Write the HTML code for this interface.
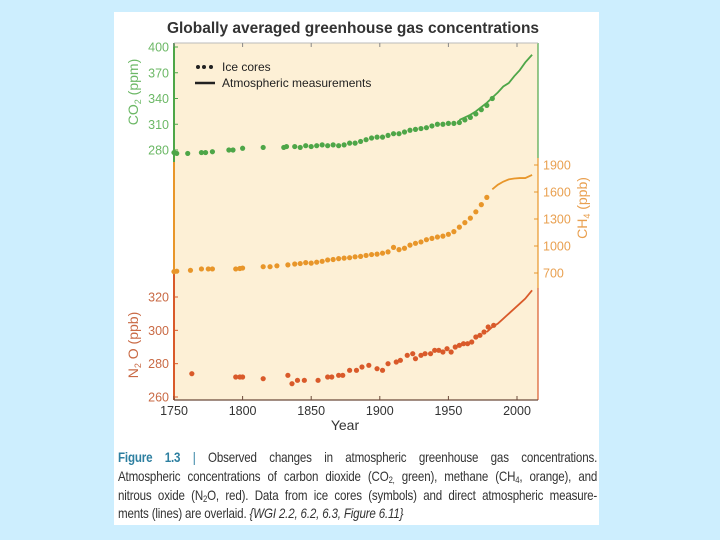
<!DOCTYPE html>
<html><head><meta charset="utf-8"><style>
body{margin:0;width:720px;height:540px;background:#cdeefe;font-family:"Liberation Sans",sans-serif;overflow:hidden}
#panel{position:absolute;left:114px;top:12px;width:485px;height:513px;background:#fff}
#cap{position:absolute;left:118px;top:449px;width:563px;font-size:13.6px;line-height:18.8px;color:#333;letter-spacing:-0.2px;transform:scaleX(0.851);transform-origin:0 0}
#cap div{white-space:nowrap;text-align:justify;text-align-last:justify;height:18.8px}
#cap div.last{text-align-last:left}
#cap sub{font-size:9px;line-height:0;vertical-align:-2px}
</style></head><body>
<div id="panel"></div>
<svg id="chart" width="720" height="540" style="position:absolute;left:0;top:0"></svg>
<div id="cap">
<div><b style="color:#2d7fa0">Figure 1.3</b> <span style="color:#2d7fa0">|</span> Observed changes in atmospheric greenhouse gas concentrations.</div>
<div>Atmospheric concentrations of carbon dioxide (CO<sub>2,</sub> green), methane (CH<sub>4</sub>, orange), and</div>
<div>nitrous oxide (N<sub>2</sub>O, red). Data from ice cores (symbols) and direct atmospheric measure-</div>
<div class="last">ments (lines) are overlaid. <i>{WGI 2.2, 6.2, 6.3, Figure 6.11}</i></div>
</div>
<script>
const xTicks=[1750,1800,1850,1900,1950,2000];
const co2Ticks=[280,310,340,370,400];
const ch4Ticks=[700,1000,1300,1600,1900];
const n2oTicks=[260,280,300,320];
const co2IceYears=[1750,1752,1760,1770,1773,1778,1790,1793,1800,1815,1830,1832,1838,1842,1846,1850,1854,1858,1862,1866,1870,1874,1878,1882,1886,1890,1894,1898,1902,1906,1910,1914,1918,1922,1926,1930,1934,1938,1942,1946,1950,1954,1958,1962,1966,1970,1974,1978,1982];
const co2IceVals=[277,276,276,277,277,278,280,280,282,283,283,284,284,283,285,284,285,286,285,286,285,286,288,288,290,292,294,295,295,297,299,299,301,303,304,305,306,308,310,310,311,311,312,315,318,322,327,332,340];
const co2LineYears=[1958,1962,1966,1970,1974,1978,1982,1986,1990,1994,1998,2002,2006,2011];
const co2LineVals=[315,318,321,325,330,335,341,347,354,358,366,373,382,391];
const ch4IceYears=[1750,1752,1762,1770,1775,1778,1795,1798,1800,1815,1820,1825,1833,1838,1842,1846,1850,1854,1858,1862,1866,1870,1874,1878,1882,1886,1890,1894,1898,1902,1906,1910,1914,1918,1922,1926,1930,1934,1938,1942,1946,1950,1954,1958,1962,1966,1970,1974,1978];
const ch4IceVals=[715,720,730,745,745,745,745,750,755,770,770,780,790,800,805,815,810,820,830,845,850,860,865,870,880,885,895,905,910,920,935,985,960,975,1010,1030,1045,1070,1085,1100,1110,1130,1160,1210,1260,1310,1380,1460,1540];
const ch4LineYears=[1982,1986,1990,1994,1998,2002,2006,2011];
const ch4LineVals=[1630,1680,1715,1740,1750,1755,1755,1790];
const n2oIceYears=[1763,1795,1798,1800,1815,1833,1836,1840,1845,1855,1862,1865,1870,1873,1878,1883,1887,1892,1898,1902,1906,1912,1915,1920,1924,1926,1930,1933,1937,1940,1943,1946,1949,1952,1955,1958,1961,1964,1967,1970,1973,1976,1979,1983];
const n2oIceVals=[274,272,272,272,271,273,268,270,270,270,272,272,273,273,276,276,278,279,277,276,280,281,282,285,286,283,285,286,286,288,288,287,289,287,290,291,292,292,293,296,297,299,302,303];
const n2oLineYears=[1978,1982,1986,1990,1994,1998,2002,2006,2011];
const n2oLineVals=[299,302,304,307,310,313,316,319,324];

const svg=document.getElementById('chart');
const NS='http://www.w3.org/2000/svg';
const X0=174,X1=538,Y0=43,Y1=400;
const xS=y=>174+(y-1750)*343/250;
const co2S=v=>150-(v-280)*103/120;
const ch4S=v=>273-(v-700)*108/1200;
const n2oS=v=>397-(v-260)*100/60;
const G='#4ea648',O='#e8962a',R='#d95a2a';
function el(t,a,p){const e=document.createElementNS(NS,t);for(const k in a)e.setAttribute(k,a[k]);(p||svg).appendChild(e);return e;}
let e;
e=el('text',{x:353,y:33,'font-size':'15.5','font-weight':'bold','text-anchor':'middle',fill:'#333'});e.textContent='Globally averaged greenhouse gas concentrations';


e=el('rect',{x:X0,y:Y0,width:X1-X0,height:Y1-Y0,fill:'#fdf0d6'});


[[Y0,162,G],[162,272,O],[272,Y1,R]].forEach(s=>{const a=el('line',{x1:X0,x2:X0,y1:s[0],y2:s[1],stroke:s[2],'stroke-width':2});});
[[Y0,158,G],[158,288,O],[288,Y1,R]].forEach(s=>{const a=el('line',{x1:X1,x2:X1,y1:s[0],y2:s[1],stroke:s[2],'stroke-width':1.2});});
e=el('line',{x1:X0,x2:X1,y1:Y1,y2:Y1,stroke:'#6b4a3a','stroke-width':1.2});


e=el('line',{x1:X0,x2:X1,y1:Y0,y2:Y0,stroke:'#bbb','stroke-width':1});


xTicks.forEach(t=>{const x=xS(t);
 el('line',{x1:x,x2:x,y1:Y1,y2:Y1-4,stroke:'#6b4a3a'});el('line',{x1:x,x2:x,y1:Y0,y2:Y0+4,stroke:'#888'});
 const l=el('text',{x:x,y:Y1+15,'font-size':'12.5','text-anchor':'middle',fill:'#333'});l.textContent=t;
 
 });
e=el('text',{x:345,y:430,'font-size':'14','text-anchor':'middle',fill:'#333'});e.textContent='Year';


function yAxis(ticks,s,c,tc,right){ticks.forEach(t=>{const y=s(t);
 const x=right?X1:X0;el('line',{x1:x,x2:right?x-4:x+4,y1:y,y2:y,stroke:c});
 const l=el('text',{x:right?X1+5:X0-5,y:y+4.5,'font-size':'12.5','text-anchor':right?'start':'end',fill:tc});l.textContent=t;
 
 });}
yAxis(co2Ticks,co2S,G,'#6cb866',false);
yAxis(ch4Ticks,ch4S,O,'#e9a050',true);
yAxis(n2oTicks,n2oS,R,'#c96a45',false);
function ytitle(x,y,rot,c,main,sub,rest,name){const t=el('text',{transform:`translate(${x},${y}) rotate(${rot})`,'font-size':'14','text-anchor':'middle',fill:c});
 t.innerHTML=`${main}<tspan font-size="9" dy="3">${sub}</tspan><tspan dy="-3"> ${rest}</tspan>`;
 
 }
ytitle(138,92,-90,'#6cb866','CO','2','(ppm)','co2-axis-title');
ytitle(587,208,-90,'#e9a050','CH','4','(ppb)','ch4-axis-title');
ytitle(138,345,-90,'#c96a45','N','2','O (ppb)','n2o-axis-title');
function dots(ys,vs,s,c,name){ys.forEach((y,i)=>{const d=el('circle',{cx:xS(y),cy:s(vs[i]),r:2.6,fill:c});
 
 });}
function line(ys,vs,s,c,name){const p=el('polyline',{points:ys.map((y,i)=>xS(y)+','+s(vs[i])).join(' '),fill:'none',stroke:c,'stroke-width':1.8});
 
 }
dots(co2IceYears,co2IceVals,co2S,G,'co2-ice-core-point');line(co2LineYears,co2LineVals,co2S,G,'co2-measurement-line');
dots(ch4IceYears,ch4IceVals,ch4S,O,'ch4-ice-core-point');line(ch4LineYears,ch4LineVals,ch4S,O,'ch4-measurement-line');
dots(n2oIceYears,n2oIceVals,n2oS,R,'n2o-ice-core-point');line(n2oLineYears,n2oLineVals,n2oS,R,'n2o-measurement-line');
const lg=el('g',{});


[198,204,211].forEach(x=>el('circle',{cx:x,cy:67,r:2,fill:'#222'},lg));
e=el('text',{x:222,y:71,'font-size':'12',fill:'#222'},lg);e.textContent='Ice cores';
el('line',{x1:195,x2:215,y1:83,y2:83,stroke:'#222','stroke-width':2.5},lg);
e=el('text',{x:222,y:87,'font-size':'12',fill:'#222'},lg);e.textContent='Atmospheric measurements';
</script>
</body></html>
